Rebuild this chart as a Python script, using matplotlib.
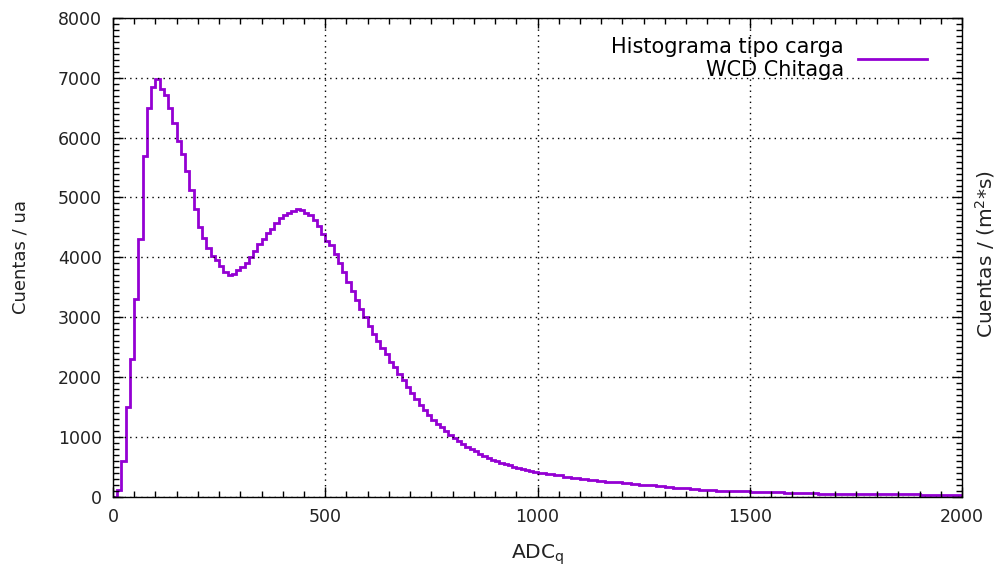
import numpy as np
import matplotlib.pyplot as plt
from matplotlib.ticker import MultipleLocator

# histogram (bin width 10 up to 1000, 20 after)
adc_edges = list(range(0, 1000, 10)) + list(range(1000, 2001, 20))
counts = [
    0, 120, 600, 1500, 2300, 3300, 4300, 5700, 6500, 6850,
    6980, 6820, 6720, 6500, 6250, 5950, 5720, 5450, 5120, 4800,
    4500, 4330, 4150, 4030, 3950, 3850, 3760, 3700, 3730, 3790,
    3840, 3900, 4000, 4110, 4220, 4300, 4400, 4470, 4580, 4660,
    4700, 4740, 4780, 4800, 4790, 4740, 4700, 4620, 4520, 4390,
    4280, 4200, 4050, 3900, 3750, 3590, 3430, 3280, 3140, 3000,
    2860, 2720, 2600, 2490, 2380, 2260, 2160, 2050, 1950, 1840,
    1740, 1640, 1540, 1450, 1370, 1290, 1220, 1160, 1100, 1040,
    990, 940, 890, 840, 800, 760, 720, 680, 650, 620,
    590, 565, 545, 525, 505, 485, 465, 450, 435, 420,
    400, 380, 360, 335, 320, 300, 285, 265, 255, 245,
    235, 220, 205, 190, 180, 165, 155, 145, 130, 118,
    112, 105, 100, 95, 90, 85, 80, 75, 72, 68,
    62, 60, 58, 55, 53, 50, 50, 48, 46, 45,
    44, 42, 41, 40, 40, 38, 37, 36, 35, 34,
]

plt.rcParams['font.family'] = 'DejaVu Sans'
plt.rcParams['font.size'] = 12.5

fig = plt.figure(figsize=(10, 5.77), dpi=100)
ax = fig.add_axes([0.113, 0.139, 0.849, 0.830])

ax.stairs(counts, adc_edges, color='#9400d3', lw=2,
          label='Histograma tipo carga\nWCD Chitaga')

ax.set_xlim(0, 2000)
ax.set_ylim(0, 8000)
ax.xaxis.set_major_locator(MultipleLocator(500))
ax.xaxis.set_minor_locator(MultipleLocator(50))
ax.yaxis.set_major_locator(MultipleLocator(1000))
ax.yaxis.set_minor_locator(MultipleLocator(100))
ax.tick_params(which='both', direction='in', top=True, right=True, colors='black')
ax.tick_params(which='major', length=7, width=1, pad=8, labelcolor='#222222')
ax.tick_params(which='minor', length=4, width=1)
ax.grid(True, which='major', color='black', linestyle=(0, (1, 3)), lw=1)
for s in ax.spines.values():
    s.set_linewidth(1)

ax.set_xlabel('ADC$_\\mathregular{q}$', fontsize=14.5, color='#222222', labelpad=12)
ax.set_ylabel('Cuentas / ua', fontsize=13, color='#222222', labelpad=20)
fig.text(0.985, 0.56, 'Cuentas / (m$^\\mathregular{2}$*s)', rotation=90,
         ha='center', va='center', fontsize=14.5, color='#222222')

leg = ax.legend(loc='upper right', bbox_to_anchor=(0.959, 0.96), frameon=False,
                markerfirst=False, handlelength=3.3, handletextpad=0.7,
                borderpad=0, borderaxespad=0, fontsize=15)
for t in leg.get_texts():
    t.set_multialignment('right')

fig.savefig('out.png', dpi=100)
